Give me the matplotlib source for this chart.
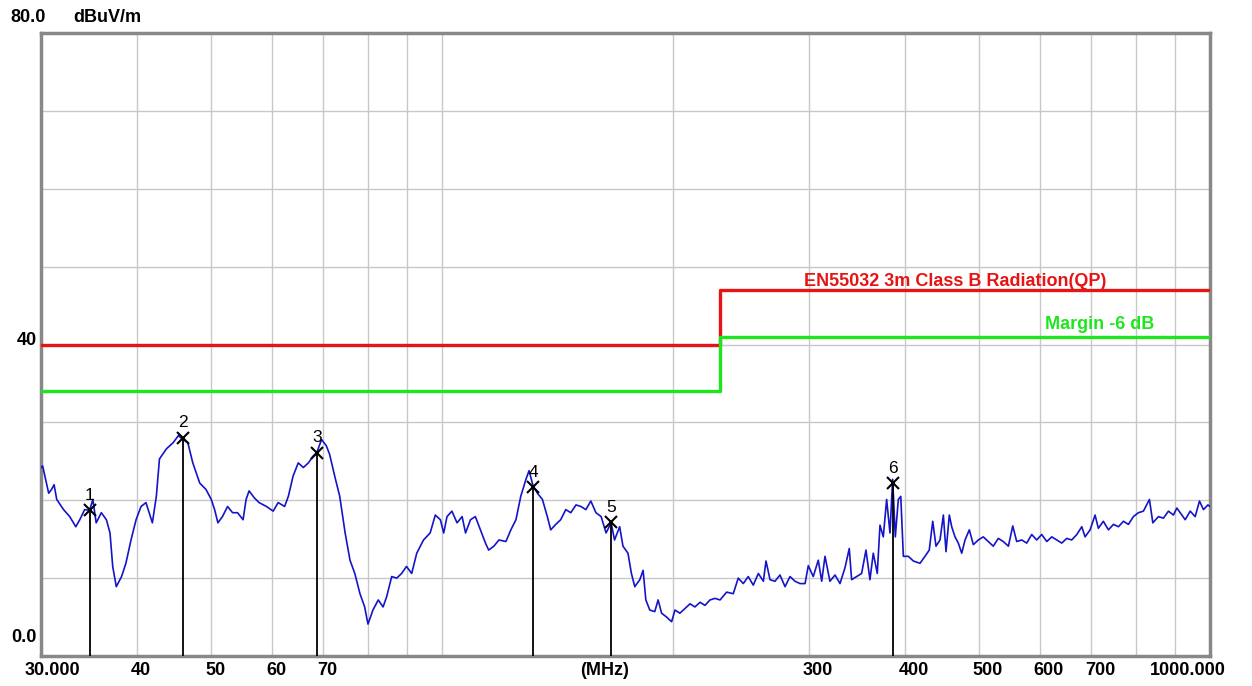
import matplotlib
matplotlib.use('Agg')
import matplotlib.pyplot as plt
from matplotlib.transforms import blended_transform_factory, offset_copy

# ---------------- data ----------------
freq_mhz = [
    30.0, 30.15, 30.5, 30.7, 30.97, 31.2, 31.45, 32.1, 32.7, 33.3, 33.7, 34.2, 34.7, 35.05,
    35.4, 35.95, 36.5, 36.9, 37.2, 37.6, 38.2, 38.7, 39.3, 39.9, 40.5, 41.1, 41.5,
    41.9, 42.4, 42.8, 43.7, 44.6, 45.3, 45.9, 46.6, 47.3, 48.3, 49.2, 50.0, 50.5,
    51.0, 51.7, 52.5, 53.3, 54.1, 55.0, 55.5, 56.0, 56.9, 57.7, 59.0, 60.2, 61.1,
    62.3, 63.0, 63.9, 64.9, 65.9, 66.9, 67.9, 68.6, 69.6, 70.6,
    71.3, 72.4, 73.5, 74.7, 75.8, 76.9, 78.1, 79.2, 80.0, 81.2, 82.5, 83.7, 84.6,
    85.9, 87.2, 88.5, 89.8, 91.2, 92.6, 94.5, 96.4, 97.9, 99.4, 100.4, 101.4, 102.9,
    104.5, 106.1, 107.2, 108.8, 110.4, 112.1, 113.8, 114.9, 116.7, 118.5, 121.0,
    122.8, 124.7, 126.5, 128.5, 129.7, 131.3, 133.0, 135.0, 137.0, 138.4, 140.5,
    142.6, 144.8, 147.0, 149.3, 151.5, 153.8, 156.1, 158.5, 161.0, 163.4, 165.9,
    167.6, 170.2, 171.9, 174.5,
    176.3, 178.1, 180.8, 182.6, 184.1, 186.3, 189.1, 191.0, 193.0, 195.9, 198.9,
    200.9, 203.9, 207.0, 210.2, 213.3, 216.6, 219.8, 223.2, 226.5, 230.0, 234.6,
    239.3, 242.9, 246.6, 250.3, 254.1, 258.0, 261.9, 264.0, 267.2, 271.2, 275.3,
    279.5, 283.7, 288.0, 292.3, 296.8, 299.7, 304.2, 308.8, 312.0, 315.1, 319.8,
    324.7, 329.6, 334.5, 338.9, 341.3, 346.5, 351.7, 356.3, 360.6, 364.2, 368.6,
    371.6, 375.3, 379.1, 382.9, 386.0, 389.1, 392.6, 395.5, 398.6, 404.6, 410.7,
    419.0, 425.3, 430.8, 435.3, 439.6, 444.9, 449.4, 453.0, 457.5, 460.8, 465.4,
    470.0, 474.9, 479.6, 485.8, 491.7, 499.1, 506.6, 514.3, 522.0, 529.9, 537.9,
    546.2, 553.4, 560.0, 568.5, 577.1, 585.8, 594.6, 603.6, 612.9, 622.1, 631.5,
    641.0, 650.7, 660.5, 670.6, 680.7, 687.5, 697.9, 708.4, 715.4, 726.2, 737.4,
    748.5, 759.8, 771.3, 782.9, 794.7, 806.7, 818.9, 833.9, 842.4, 856.7, 869.6,
    882.8, 896.1, 905.4, 919.1, 928.3, 942.3, 956.5, 968.9, 980.6, 993.8, 1000.0,
]
level_dbuv = [
    24.2, 24.4, 22.2, 20.9, 21.4, 22.0, 20.1, 18.8, 17.9, 16.6, 17.5, 18.8, 18.7, 20.1,
    17.1, 18.4, 17.5, 15.8, 11.5, 8.9, 10.2, 11.9, 14.9, 17.5, 19.2, 19.7, 18.4,
    17.1, 20.5, 25.3, 26.6, 27.4, 28.3, 27.8, 27.4, 24.8, 22.2, 21.4, 20.1, 18.8,
    17.1, 17.9, 19.2, 18.4, 18.4, 17.5, 20.1, 21.2, 20.3, 19.7, 19.2, 18.6, 19.7,
    19.2, 20.5, 23.1, 24.8, 24.2, 24.8, 25.7, 26.1, 27.8, 27.0,
    25.9, 23.1, 20.5, 15.8, 12.3, 10.6, 8.0, 6.3, 4.1, 5.9, 7.2, 6.3, 7.6,
    10.2, 10.0, 10.6, 11.5, 10.6, 13.2, 14.9, 15.8, 18.1, 17.5, 15.8, 17.9, 18.6,
    17.1, 17.9, 15.8, 17.5, 17.9, 16.2, 14.5, 13.6, 14.1, 14.9, 14.7,
    16.2, 17.5, 20.5, 22.7, 23.8, 21.8, 20.9, 20.1, 17.9, 16.2, 16.9,
    17.5, 18.8, 18.4, 19.4, 19.2, 18.8, 19.9, 18.4, 17.9, 15.8, 17.1,
    14.9, 16.6, 14.1, 13.2,
    10.6, 8.9, 9.8, 11.0, 7.2, 5.9, 5.7, 7.2, 5.5, 5.0, 4.4,
    5.9, 5.5, 6.1, 6.7, 6.3, 6.9, 6.5, 7.2, 7.4, 7.2, 8.2,
    8.0, 10.0, 9.3, 10.2, 9.1, 10.6, 9.6, 12.2, 9.8, 9.6, 10.4,
    8.9, 10.2, 9.6, 9.3, 9.3, 11.6, 10.2, 12.3, 9.6, 12.8, 9.6,
    10.4, 9.3, 11.3, 13.8, 9.8, 10.2, 10.6, 13.6, 9.8, 13.2, 10.6,
    16.8, 15.3, 20.1, 15.8, 22.7, 15.3, 20.1, 20.5, 12.8, 12.8, 12.2,
    11.9, 12.8, 13.6, 17.3, 14.1, 14.9, 18.1, 13.4, 18.1, 16.6, 15.3,
    14.5, 13.2, 14.9, 16.2, 14.3, 14.9, 15.3, 14.7, 14.1, 15.1, 14.7,
    14.1, 16.7, 14.7, 14.9, 14.5, 15.6, 14.9, 15.6, 14.7, 15.3, 14.9,
    14.5, 15.1, 14.9, 15.6, 16.6, 15.3, 16.2, 18.1, 16.4, 17.3, 16.2,
    16.9, 16.6, 17.3, 16.9, 17.9, 18.4, 18.6, 20.1, 17.1, 17.9, 17.7,
    18.6, 18.1, 19.0, 18.1, 17.5, 18.6, 17.9, 19.9, 18.8, 19.4, 19.2,
]

limit_freq = [30, 230, 230, 1000]
limit_level = [40, 40, 47, 47]
margin_level = [34, 34, 41, 41]

marker_freq = [34.7, 45.9, 68.6, 131.3, 165.9, 386.0]
marker_level = [18.7, 28.0, 26.1, 21.7, 17.2, 22.2]
marker_ids = ['1', '2', '3', '4', '5', '6']

grid_freqs = [40, 50, 60, 70, 80, 90, 100, 200, 300, 400, 500, 600, 700, 800, 900]
grid_levels = [10, 20, 30, 40, 50, 60, 70]
x_label_values = [30, 40, 50, 60, 70, 300, 400, 500, 600, 700, 1000]
x_label_texts = ['30.000', '40', '50', '60', '70', '300', '400', '500', '600', '700', '1000.000']
y_label_values = [80, 40, 0]
y_label_texts = ['80.0', '40', '0.0']

limit_name = 'EN55032 3m Class B Radiation(QP)'
margin_name = 'Margin -6 dB'

# ---------------- figure ----------------
W, H = 1252, 686
fig = plt.figure(figsize=(W / 100, H / 100), dpi=100)
fig.patch.set_facecolor('white')
ax = fig.add_axes([41 / W, 30 / H, 1169 / W, 623 / H])
ax.set_xscale('log')
ax.set_xlim(30, 1000)
ax.set_ylim(0, 80)

ax.set_xticks(grid_freqs)
ax.set_xticks([], minor=True)
ax.set_yticks(grid_levels)
ax.tick_params(axis='both', which='both', length=0, labelbottom=False, labelleft=False)
ax.grid(True, color='#c8c8c8', linewidth=1.0)
ax.set_axisbelow(True)
for sp in ax.spines.values():
    sp.set_color('#888888')
    sp.set_linewidth(2.5)

FONT = ['Liberation Sans', 'DejaVu Sans']

# trace
ax.plot(freq_mhz, level_dbuv, color='#1414c8', linewidth=1.2, zorder=3)

# limit and margin
ax.plot(limit_freq, limit_level, color='#e61414', linewidth=2.4, zorder=4)
ax.plot(limit_freq, margin_level, color='#1ee61e', linewidth=2.4, zorder=4)

# markers
ax.vlines(marker_freq, 0, marker_level, color='black', linewidth=1.3, zorder=5)
ax.plot(marker_freq, marker_level, linestyle='none', marker='x', color='black',
        markersize=9, markeredgewidth=1.5, zorder=6)
for f, lv, t in zip(marker_freq, marker_level, marker_ids):
    tr = offset_copy(ax.transData, fig=fig, x=0, y=15, units='dots')
    ax.text(f, lv, t, transform=tr, ha='center', va='center', fontsize=12.5,
            family=FONT, color='black', zorder=7)

# limit texts
ax.text(0.782, 47.0, limit_name, transform=blended_transform_factory(ax.transAxes, ax.transData),
        ha='center', va='bottom', fontsize=13, fontweight='bold', color='#e61414', family=FONT)
ax.text(0.906, 41.5, margin_name, transform=blended_transform_factory(ax.transAxes, ax.transData),
        ha='center', va='bottom', fontsize=13, fontweight='bold', color='#1ee61e', family=FONT)

# x labels
bx = blended_transform_factory(ax.transData, ax.transAxes)
for i, (v, t) in enumerate(zip(x_label_values, x_label_texts)):
    if i == 0:
        dx = -16
    elif i == len(x_label_values) - 1:
        dx = -60
    else:
        dx = -6
    tr = offset_copy(bx, fig=fig, x=dx, y=-6, units='dots')
    ax.text(v, 0, t, transform=tr, ha='left', va='top', fontsize=13,
            fontweight='bold', family=FONT, color='black')
ax.text(0.4825, 0, '(MHz)', transform=offset_copy(ax.transAxes, fig=fig, x=0, y=-6, units='dots'),
        ha='center', va='top', fontsize=13, fontweight='bold', family=FONT, color='black')

# y labels
by = blended_transform_factory(ax.transAxes, ax.transData)
y_offsets = {80: 15, 40: 4, 0: 18}
for v, t in zip(y_label_values, y_label_texts):
    if v == 80:
        tr = offset_copy(by, fig=fig, x=-31, y=y_offsets[v], units='dots')
        ax.text(0, v, t, transform=tr, ha='left', va='center', fontsize=13,
                fontweight='bold', family=FONT, color='black', clip_on=False)
    else:
        tr = offset_copy(by, fig=fig, x=-4, y=y_offsets[v], units='dots')
        ax.text(0, v, t, transform=tr, ha='right', va='center', fontsize=13,
                fontweight='bold', family=FONT, color='black', clip_on=False)
ax.text(0, 80, 'dBuV/m', transform=offset_copy(by, fig=fig, x=32, y=15, units='dots'),
        ha='left', va='center', fontsize=13, fontweight='bold', family=FONT, color='black')

fig.savefig('out.png', dpi=100, facecolor='white')
